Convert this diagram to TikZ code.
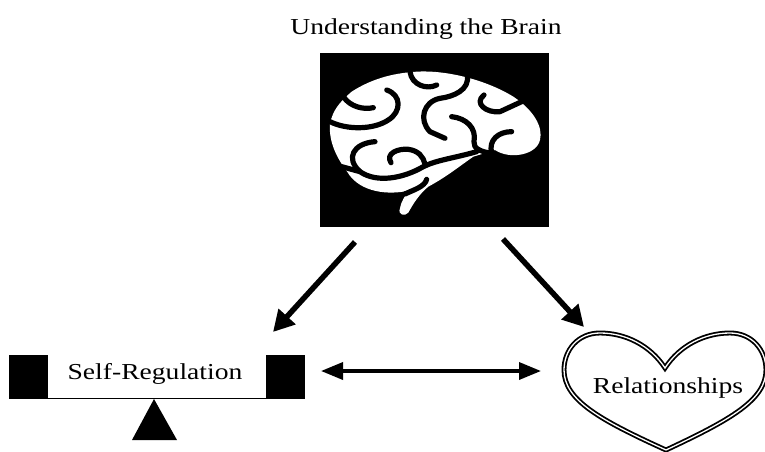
\documentclass[tikz,border=0pt]{standalone}
\usepackage{fontspec}
\setmainfont{Liberation Serif}
\usepackage{graphicx}
\usepackage{tikz}
\usetikzlibrary{positioning, arrows.meta}
\newcommand{\widetext}[1]{\scalebox{1.21}[1]{#1}}
\tikzset{
    label/.style={font=\fontsize{22.8}{26}\selectfont, inner sep=0pt},
    weight/.style={draw=black, fill=black, minimum width=38pt, minimum height=43pt, inner sep=0pt},
    flow/.style={-{Triangle[length=21pt, width=22pt]}, line width=5.5pt},
    flowboth/.style={{Triangle[length=22pt, width=17pt]}-{Triangle[length=22pt, width=17pt]}, line width=3.5pt},
    groove/.style={draw=black, line width=5.2pt, line cap=round, line join=round}
}

\begin{document}
\begin{tikzpicture}[x=1pt, y=-1pt]
    \useasboundingbox (0,0) rectangle (765,452);

    % Title and brain
    \node[label] (title) at (426,29) {\widetext{Understanding the Brain}};
    \node[draw=black, fill=black, minimum width=228pt, minimum height=173pt, inner sep=0pt] (brain) at (434,140) {};
    \begin{scope}[shift={(310,40)}, x=0.3333pt, y=-0.3333pt]
        \fill[white] (60,250) .. controls (70,210) and (85,190) .. (125,155)
            .. controls (180,120) and (240,100) .. (320,95)
            .. controls (400,90) and (520,115) .. (610,170)
            .. controls (670,210) and (700,260) .. (690,300)
            .. controls (680,345) and (600,360) .. (555,330)
            -- (490,350) .. controls (440,385) and (410,410) .. (355,440)
            .. controls (330,460) and (310,490) .. (295,518)
            .. controls (285,530) and (262,525) .. (270,505)
            .. controls (275,480) and (285,470) .. (295,452)
            .. controls (240,465) and (150,460) .. (112,396)
            .. controls (85,360) and (55,310) .. (60,250) -- cycle;
        \draw[groove] (300,95) .. controls (305,135) and (350,150) .. (380,135);
        \draw[groove] (472,105) .. controls (480,150) and (430,170) .. (390,175)
            .. controls (340,185) and (325,240) .. (360,275) -- (405,295);
        \draw[groove] (230,150) .. controls (275,165) and (275,215) .. (235,240)
            .. controls (190,270) and (110,270) .. (60,245);
        \draw[groove] (100,170) .. controls (120,200) and (160,210) .. (190,203);
        \draw[groove] (522,165) .. controls (490,190) and (530,220) .. (570,215)
            -- (635,185);
        \draw[groove] (425,230) .. controls (470,235) and (500,265) .. (492,305)
            .. controls (490,325) and (510,335) .. (545,340);
        \draw[groove] (605,275) .. controls (565,275) and (535,300) .. (545,340);
        \draw[groove] (195,305) .. controls (130,310) and (105,355) .. (150,395)
            .. controls (200,430) and (280,415) .. (340,380)
            .. controls (380,360) and (430,355) .. (500,335);
        \draw[groove] (95,380) -- (150,395);
        \draw[groove] (243,368) .. controls (225,340) and (265,325) .. (295,328)
            .. controls (325,332) and (340,350) .. (345,372);
        \draw[groove] (350,418) .. controls (345,440) and (310,450) .. (285,462);
    \end{scope}

    % Scale
    \node[weight] (weightL) at (28,377) {};
    \node[weight] (weightR) at (285,377) {};
    \draw[line width=1.5pt] (weightL.south east) -- (weightR.south west);
    \node[label] (self) at (155,374) {\widetext{Self-Regulation}};
    \fill (154,399) -- (177,440) -- (132,440) -- cycle;

    % Heart
    \path[draw=black, double=white, line width=1.8pt, double distance=1.3pt, fill=white] (665,368)
        .. controls (650,345) and (625,333) .. (600,333)
        .. controls (578,333) and (564,350) .. (564,370)
        .. controls (564,400) and (600,420) .. (666,450)
        .. controls (730,420) and (766,400) .. (766,370)
        .. controls (766,350) and (752,333) .. (730,333)
        .. controls (705,333) and (680,345) .. (665,368) -- cycle;
    \node[label] (rel) at (668,388) {\widetext{Relationships}};

    % Arrows
    \coordinate (brainL) at (355,242);
    \coordinate (selfR) at (273,332);
    \coordinate (brainR) at (503,239);
    \coordinate (relL) at (584,327);
    \coordinate (selfM) at (321,371);
    \coordinate (relM) at (541,371);
    \draw[flow] (brainL) -- (selfR);
    \draw[flow] (brainR) -- (relL);
    \draw[flowboth] (selfM) -- (relM);
\end{tikzpicture}
\end{document}
